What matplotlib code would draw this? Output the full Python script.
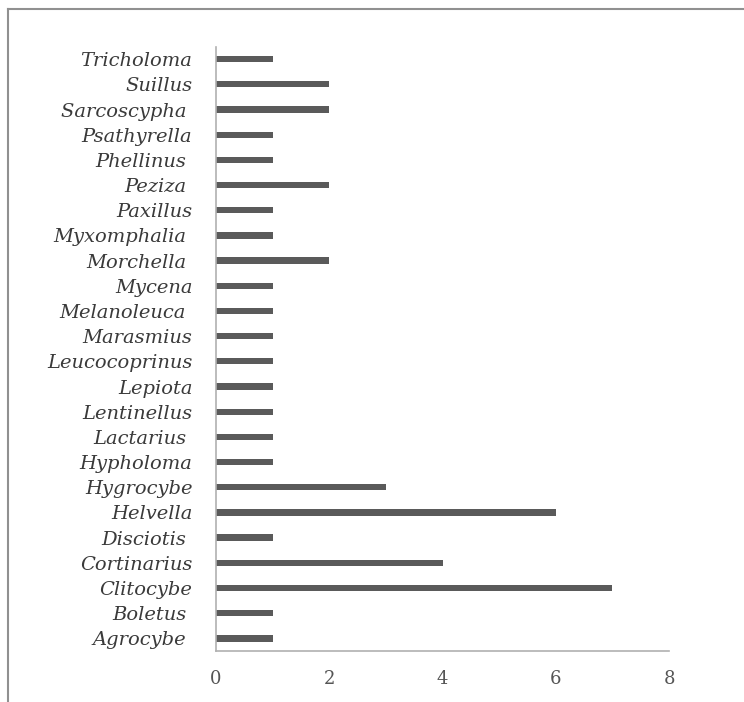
import matplotlib.pyplot as plt
from matplotlib.lines import Line2D

# genus names, bottom to top (trailing space kept as in the source chart)
genera = ["Agrocybe ", "Boletus ", "Clitocybe", "Cortinarius", "Disciotis ",
          "Helvella", "Hygrocybe", "Hypholoma", "Lactarius ", "Lentinellus",
          "Lepiota", "Leucocoprinus", "Marasmius", "Melanoleuca ", "Mycena",
          "Morchella ", "Myxomphalia ", "Paxillus", "Peziza ", "Phellinus ",
          "Psathyrella", "Sarcoscypha ", "Suillus", "Tricholoma"]
counts = [1, 1, 7, 4, 1, 6, 3, 1, 1, 1, 1, 1, 1, 1, 1, 2, 1, 1, 2, 1, 1, 2, 2, 1]
xticks = [0, 2, 4, 6, 8]

fig = plt.figure(figsize=(7.44, 7.02), dpi=100)
ax = fig.add_axes([0.2903, 0.0727, 0.609, 0.861])

ax.barh(range(len(genera)), counts, height=0.25, color="#5a5a5a")
ax.set_xlim(0, 8)
ax.set_ylim(-0.5, len(genera) - 0.5)
ax.set_xticks(xticks)
ax.set_yticks(range(len(genera)))
ax.set_yticklabels(genera, fontfamily="DejaVu Serif", fontstyle="italic",
                   fontsize=14, color="#3a3a3a")
ax.set_xticklabels([str(t) for t in xticks], fontfamily="DejaVu Serif",
                   fontsize=13, color="#555555")
ax.tick_params(axis="y", length=0, pad=17)
ax.tick_params(axis="x", length=0, pad=14)

for side in ["top", "right"]:
    ax.spines[side].set_visible(False)
for side in ["left", "bottom"]:
    ax.spines[side].set_color("#b0b0b0")
    ax.spines[side].set_linewidth(1.2)

# outer frame (left and top only)
fig.add_artist(Line2D([0.011, 0.011], [0.0, 0.987], transform=fig.transFigure,
                      color="#909090", lw=1.5))
fig.add_artist(Line2D([0.011, 1.0], [0.987, 0.987], transform=fig.transFigure,
                      color="#909090", lw=1.5))

fig.savefig("out.png", dpi=100)
